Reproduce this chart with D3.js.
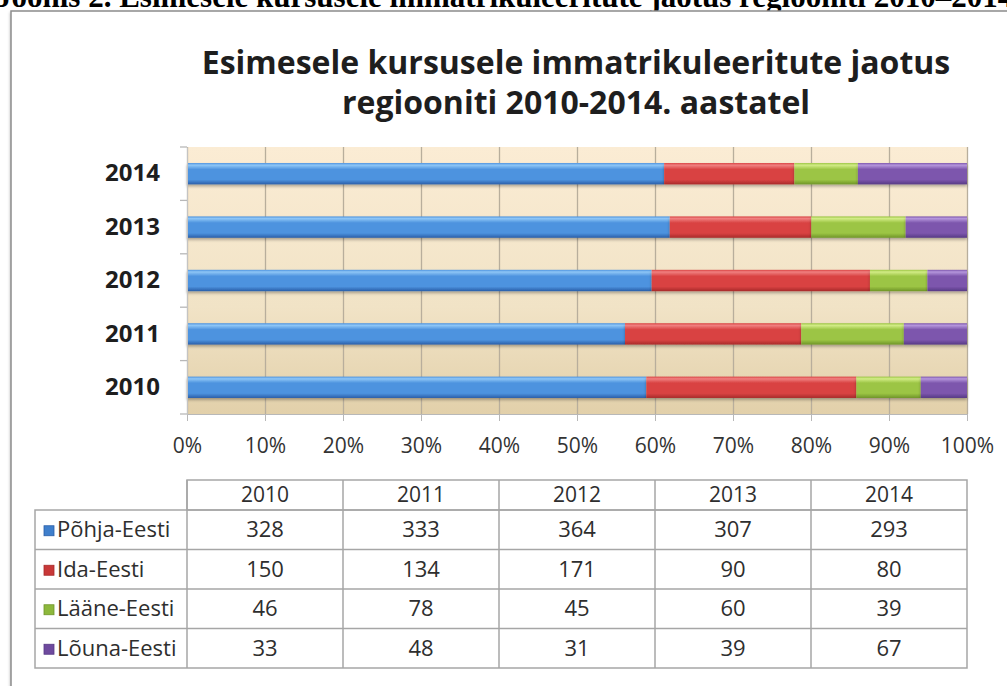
<!DOCTYPE html>
<html lang="et">
<head>
    <meta charset="UTF-8">
    <title>Esimesele kursusele immatrikuleeritute jaotus regiooniti</title>
    <script src="https://d3js.org/d3.v7.min.js"></script>
    <style>
        body { margin: 0; background: #fff; overflow: hidden; }
        text { font-family: "Open Sans", Lato, sans-serif; }
    </style>
</head>
<body>
    <div id="chart-container"></div>

    <script>
        // Data
        const years = ["2010", "2011", "2012", "2013", "2014"];
        const regions = ["Põhja-Eesti", "Ida-Eesti", "Lääne-Eesti", "Lõuna-Eesti"];
        const pohjaEesti = [328, 333, 364, 307, 293];
        const idaEesti = [150, 134, 171, 90, 80];
        const laaneEesti = [46, 78, 45, 60, 39];
        const lounaEesti = [33, 48, 31, 39, 67];
        const series = [pohjaEesti, idaEesti, laaneEesti, lounaEesti];
        const xTickValues = [0, 0.1, 0.2, 0.3, 0.4, 0.5, 0.6, 0.7, 0.8, 0.9, 1];

        // bar colours: [top highlight, main, bottom dark]
        const colors = [
            ["#8ec6f6", "#4d93df", "#2a5ea8"],
            ["#f08080", "#d94343", "#a82a2a"],
            ["#d2ec86", "#9cc544", "#6f9528"],
            ["#b596dc", "#7d56ad", "#573a85"]
        ];
        const keyColors = ["#3f7fcc", "#c83838", "#8db83c", "#6e4a9e"];

        const width = 1007;
        const height = 686;

        const svg = d3.select("#chart-container")
            .append("svg")
            .attr("width", width)
            .attr("height", height);

        const defs = svg.append("defs");

        // gradients for the bevelled bars
        colors.forEach((c, i) => {
            const g = defs.append("linearGradient")
                .attr("id", "grad" + i)
                .attr("x1", 0).attr("y1", 0).attr("x2", 0).attr("y2", 1);
            g.append("stop").attr("offset", "0%").attr("stop-color", c[1]);
            g.append("stop").attr("offset", "10%").attr("stop-color", c[0]);
            g.append("stop").attr("offset", "30%").attr("stop-color", c[1]);
            g.append("stop").attr("offset", "78%").attr("stop-color", c[1]);
            g.append("stop").attr("offset", "100%").attr("stop-color", c[2]);
        });

        const bg = defs.append("linearGradient")
            .attr("id", "plotbg")
            .attr("x1", 0).attr("y1", 0).attr("x2", 0).attr("y2", 1);
        bg.append("stop").attr("offset", "0%").attr("stop-color", "#fbecd4");
        bg.append("stop").attr("offset", "60%").attr("stop-color", "#f1e3c6");
        bg.append("stop").attr("offset", "100%").attr("stop-color", "#e2d0aa");

        const shadow = defs.append("filter").attr("id", "shadow")
            .attr("x", "-5%").attr("y", "-30%").attr("width", "110%").attr("height", "180%");
        shadow.append("feDropShadow")
            .attr("dx", 0).attr("dy", 2).attr("stdDeviation", 1.5)
            .attr("flood-color", "#000").attr("flood-opacity", 0.3);

        // caption above the chart (cut off by the page top, as in the scan)
        svg.append("text")
            .attr("x", -4)
            .attr("y", 7)
            .style("font-family", "'Liberation Serif', 'Times New Roman', serif")
            .attr("font-size", "31px")
            .attr("font-weight", "bold")
            .attr("fill", "#000")
            .text("Joonis 2. Esimesele kursusele immatrikuleeritute jaotus regiooniti 2010–2014.");

        // chart frame
        svg.append("rect")
            .attr("x", 11)
            .attr("y", 11)
            .attr("width", 1100)
            .attr("height", 800)
            .attr("fill", "#fff")
            .attr("stroke", "#8c8c8c")
            .attr("stroke-width", 1.5)
            .attr("filter", "url(#shadow)");

        // title
        const title = svg.append("text")
            .attr("x", 576)
            .attr("y", 74)
            .attr("text-anchor", "middle")
            .attr("font-size", "32px")
            .attr("font-weight", "bold")
            .attr("fill", "#1e1e1e");
        title.append("tspan").attr("x", 576).attr("dy", 0)
            .text("Esimesele kursusele immatrikuleeritute jaotus");
        title.append("tspan").attr("x", 576).attr("dy", 40)
            .text("regiooniti 2010-2014. aastatel");

        // scales
        const plotLeft = 187, plotRight = 967, plotTop = 147, plotBottom = 414;

        const xScale = d3.scaleLinear()
            .domain([0, 1])
            .range([plotLeft, plotRight]);

        const yScale = d3.scaleBand()
            .domain(years.slice().reverse())
            .range([plotTop, plotBottom])
            .paddingInner(0.6)
            .paddingOuter(0.3);

        // plot background
        svg.append("rect")
            .attr("x", plotLeft)
            .attr("y", plotTop)
            .attr("width", plotRight - plotLeft)
            .attr("height", plotBottom - plotTop)
            .attr("fill", "url(#plotbg)");

        // vertical gridlines
        svg.append("g")
            .attr("transform", `translate(0, ${plotBottom})`)
            .call(d3.axisBottom(xScale).tickValues(xTickValues).tickSize(-(plotBottom - plotTop)).tickFormat(""))
            .call(g => g.select(".domain").remove())
            .call(g => g.selectAll("line").attr("stroke", "#b8ae9c").attr("stroke-width", 1.3));

        // stacked bars (100%)
        const rows = years.map((yr, i) => {
            const r = { year: yr };
            regions.forEach((reg, j) => { r[reg] = series[j][i]; });
            return r;
        });
        const stacked = d3.stack()
            .keys(regions)
            .offset(d3.stackOffsetExpand)(rows);

        svg.append("g")
            .selectAll("g")
            .data(stacked)
            .enter()
            .append("g")
            .attr("fill", (d, i) => `url(#grad${i})`)
            .selectAll("rect")
            .data(d => d)
            .enter()
            .append("rect")
            .attr("x", d => xScale(d[0]))
            .attr("y", d => yScale(d.data.year))
            .attr("width", d => xScale(d[1]) - xScale(d[0]))
            .attr("height", yScale.bandwidth())
            .attr("filter", "url(#shadow)");

        // x axis
        svg.append("g")
            .attr("transform", `translate(0, ${plotBottom})`)
            .call(d3.axisBottom(xScale).tickValues(xTickValues).tickSize(7).tickPadding(17).tickFormat(d3.format(".0%")))
            .call(g => g.select(".domain").attr("stroke", "#b8b8b8"))
            .call(g => g.selectAll("line").attr("stroke", "#b8b8b8"))
            .call(g => g.selectAll("text")
                .attr("font-size", "21px")
                .attr("fill", "#333")
                .style("font-family", "'Open Sans', Lato, sans-serif"));

        // y axis: labels at band centres, ticks at band boundaries
        svg.append("g")
            .attr("transform", `translate(${plotLeft}, 0)`)
            .call(d3.axisLeft(yScale).tickSize(0).tickPadding(27))
            .call(g => g.select(".domain").attr("stroke", "#c4c4c4"))
            .call(g => g.selectAll("text")
                .attr("font-size", "24px")
                .attr("font-weight", "bold")
                .attr("fill", "#1e1e1e")
                .style("font-family", "'Open Sans', Lato, sans-serif"));

        const step = yScale.step();
        const boundaries = d3.range(years.length + 1).map(i => plotTop + i * step);
        svg.append("g")
            .selectAll("line")
            .data(boundaries)
            .enter()
            .append("line")
            .attr("x1", plotLeft - 7)
            .attr("x2", plotLeft)
            .attr("y1", d => d)
            .attr("y2", d => d)
            .attr("stroke", "#b8b8b8")
            .attr("stroke-width", 1.3);

        // data table
        const tableTop = 480, headH = 30, rowH = 39.5, labelLeft = 35;
        const colW = (plotRight - plotLeft) / years.length;
        const table = svg.append("g")
            .attr("stroke", "#a6a6a6")
            .attr("stroke-width", 1.5)
            .attr("fill", "none");

        // header box
        table.append("rect")
            .attr("x", plotLeft).attr("y", tableTop)
            .attr("width", plotRight - plotLeft).attr("height", headH);
        // body box
        table.append("rect")
            .attr("x", labelLeft).attr("y", tableTop + headH)
            .attr("width", plotRight - labelLeft).attr("height", rowH * regions.length);
        // row lines
        table.selectAll("line.row")
            .data(d3.range(1, regions.length))
            .enter()
            .append("line")
            .attr("x1", labelLeft).attr("x2", plotRight)
            .attr("y1", i => tableTop + headH + i * rowH)
            .attr("y2", i => tableTop + headH + i * rowH);
        // column lines
        table.selectAll("line.col")
            .data(d3.range(0, years.length))
            .enter()
            .append("line")
            .attr("x1", i => plotLeft + i * colW).attr("x2", i => plotLeft + i * colW)
            .attr("y1", tableTop).attr("y2", tableTop + headH + rowH * regions.length);

        // header years
        svg.append("g")
            .selectAll("text")
            .data(years)
            .enter()
            .append("text")
            .attr("x", (d, i) => plotLeft + colW * (i + 0.5))
            .attr("y", tableTop + headH / 2)
            .attr("dy", "0.35em")
            .attr("text-anchor", "middle")
            .attr("font-size", "21px")
            .attr("fill", "#2e2e2e")
            .text(d => d);

        // row labels with colour keys
        const rowG = svg.append("g")
            .selectAll("g")
            .data(regions)
            .enter()
            .append("g")
            .attr("transform", (d, i) => `translate(0, ${tableTop + headH + rowH * (i + 0.5)})`);
        rowG.append("rect")
            .attr("x", 44).attr("y", -4)
            .attr("width", 10).attr("height", 10)
            .attr("fill", (d, i) => keyColors[i])
            .attr("stroke", (d, i) => colors[i][2])
            .attr("stroke-width", 0.8);
        rowG.append("text")
            .attr("x", 57)
            .attr("dy", "0.35em")
            .attr("font-size", "22px")
            .attr("fill", "#2e2e2e")
            .text(d => d);

        // values
        rowG.each(function (reg, j) {
            d3.select(this).selectAll("text.val")
                .data(series[j])
                .enter()
                .append("text")
                .attr("class", "val")
                .attr("x", (d, i) => plotLeft + colW * (i + 0.5))
                .attr("dy", "0.35em")
                .attr("text-anchor", "middle")
                .attr("font-size", "22px")
                .attr("fill", "#2e2e2e")
                .text(d => d);
        });
    </script>
</body>
</html>
